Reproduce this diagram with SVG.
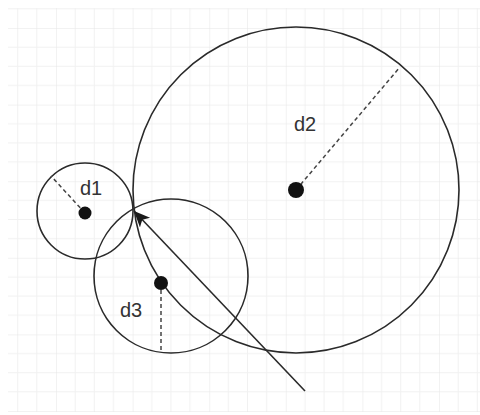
<svg xmlns="http://www.w3.org/2000/svg" width="480" height="415" viewBox="0 0 480 415">
  <defs>
    <pattern id="grid" patternUnits="userSpaceOnUse" x="56" y="28" width="76.6" height="76.6">
      <path d="M19.15 0V76.6M38.3 0V76.6M57.45 0V76.6M0 19.15H76.6M0 38.3H76.6M0 57.45H76.6" fill="none" stroke="#f1f1f1" stroke-width="1"/>
      <path d="M0 0V76.6M0 0H76.6" fill="none" stroke="#e6e6e6" stroke-width="1"/>
    </pattern>
    <marker id="arrow" markerUnits="userSpaceOnUse" markerWidth="20" markerHeight="16" refX="16" refY="7" orient="auto">
      <path d="M0 0L16 7L0 14L4 7Z" fill="#1a1a1a"/>
    </marker>
    <style>
      .circ { fill: none; stroke: #2a2a2a; stroke-width: 1.6; }
      .dot { fill: #111; }
      .dash { fill: none; stroke: #444; stroke-width: 1.5; stroke-dasharray: 4 3; }
      .lbl { font-family: "Liberation Sans", Arial, sans-serif; font-size: 20px; fill: #333; text-anchor: middle; }
      .conn { fill: none; stroke: #2a2a2a; stroke-width: 1.6; }
    </style>
  </defs>
  <rect x="0" y="0" width="480" height="415" fill="#ffffff"/>
  <rect x="8" y="8" width="472" height="404" fill="url(#grid)"/>

  <g id="d2">
    <circle class="circ" cx="296" cy="190" r="163"/>
    <line class="dash" x1="296" y1="190" x2="400" y2="67"/>
    <circle class="dot" cx="296" cy="190" r="8"/>
    <text class="lbl" x="305" y="131">d2</text>
  </g>

  <g id="d1">
    <circle class="circ" cx="85" cy="211" r="48"/>
    <line class="dash" x1="85" y1="213" x2="51" y2="176"/>
    <circle class="dot" cx="85" cy="213" r="6.5"/>
    <text class="lbl" x="91" y="195">d1</text>
  </g>

  <g id="d3">
    <circle class="circ" cx="171" cy="276" r="77"/>
    <line class="dash" x1="161" y1="283" x2="161" y2="352"/>
    <circle class="dot" cx="161" cy="283" r="7"/>
    <text class="lbl" x="131" y="317">d3</text>
  </g>

  <g id="connectors">
    <line class="conn" x1="305" y1="391" x2="134" y2="211" marker-end="url(#arrow)"/>
  </g>
</svg>
